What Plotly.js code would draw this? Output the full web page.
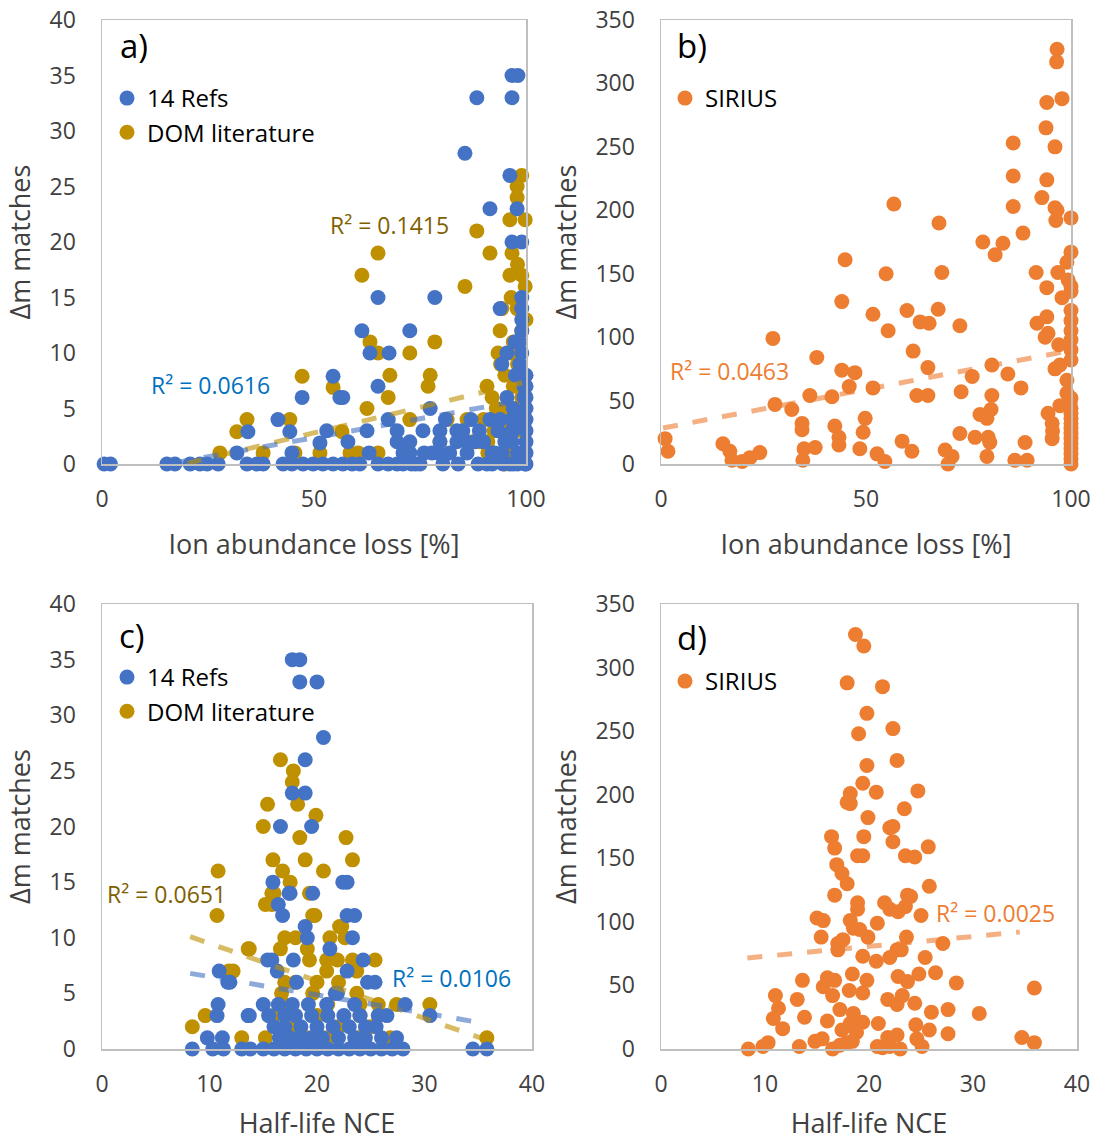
<!DOCTYPE html>
<html><head><meta charset="utf-8">
<script src="https://cdn.plot.ly/plotly-3.0.1.min.js"></script>
<style>body{margin:0;background:#fff}#c{width:1094px;height:1141px}</style>
</head><body><div id="c"></div>
<script>
// ---------- Panel a: Ion abundance loss [%] vs Δm matches ----------
const a_refs_x = [0.5,2,15.3,17.2,20.8,23.1,24.8,27.4,31.8,34.4,34.2,36.5,38,41.5,44.3,44.8,42.7,44.8,47.4,49.8,52.1,54.5,47.2,54.5,53,51.4,56.1,
  65.1,78.5,61.3,72.6,63.2,67.7,65.1,56.8,93.9,99,99,99,99,97.4,99,94.3,100,100,100,100,100,100,100,100,100,
  95.5,67.5,62.5,69.6,77.4,75.7,79.7,83.7,85.1,69.6,72.6,79.7,83.7,86,71,72.6,77.8,79.2,86.1,92.6,94.4,
  91.5,93.9,96.7,97.9,93.4,96.7,96.7,56.8,59,60.8,65.1,67.5,69.6,80.4,88.7,90.8,94.6,96.2,99.8,
  96.7,98.1,88.4,96.7,85.6,96.2,91.5,97.9,96.7,99,
  76,74,73,81,84,87,89,90,92,98,98,97,98.5,97.5,99.5,95,97,92,88,82,75,63,58,71,95.5,98.5,99.5,97];
const a_refs_y = [0,0,0,0,0,0,0,0,1,2.9,0,0,0,4,2.9,1,0,0,0,0,0,0,6,7.9,3,1.9,6,
  15,15,12,12,10,10,7,6,14,15,14,13,12,11,10,9,8,7,6,5,4,3,2,1,0,
  6,4,3,3,5,3,3,3,3,2,2,2,2,2,1,1,1,1,1,1,1,
  4,4,4,4,3,3,2,0,0,0,0,0,0,0,0,0,0,0,0,
  35,35,33,33,28,26,23,23,20,20,
  1,0,0,4,0,4,3,2,0,1,0,5,9,8,7,2,3,1,2,1,0,1,2,0,10,11,6,0];
const a_dom_x = [27.8,31.8,34.2,38,44.3,45.5,47.2,54.5,51.4,56.6,
  65.1,91.5,96.7,61.3,85.6,96.2,99,99.8,78.5,72.6,63.2,65.1,67.9,77.4,76.9,67.5,62.5,90.8,93.9,94.3,97.9,93.4,72.6,81.4,86.1,58.5,60.4,65.1,79.7,87.5,91,
  99,97.9,97.9,96.2,99.8,88.4,
  96,98,95,97,92,99,95,98,93,90,96,99,91,97,95,99,97,94,98,100,96.5,92.5,89];
const a_dom_y = [1,2.9,4,1,4,1,7.9,6.9,1,2.9,
  19,19,19,17,16,17,17,16,11,10,11,10,8,8,7,6,5,7,12,14,14,10,4,4,4,1,1,1,2,2,2,
  26,25,24,22,22,21,
  10,9,8,7,6,6,5,5,5,4,3,3,1,1,0,12,11,9,18,13,15,3,2,3];
// ---------- Panel b ----------
const b_sirius_x = [96.6,96.5,94.1,97.8,93.9,96.1,85.9,85.9,94.1,92.9,96.1,96.6,96.3,100,56.8,67.8,85.9,88.3,78.5,83.4,81.5,100,44.9,
  99,99.3,96.8,54.9,68.5,91.5,94.1,97.8,44.1,51.7,60,67.6,63.2,65.4,72.9,55.4,91.7,94.1,
  100,100,100,100,100,100,93.7,94.4,97,61.5,27.3,38,44.1,47.3,65.1,80.7,84.6,75.9,96.1,97.3,
  45.9,51.7,36.3,41.7,62.4,65.1,73.2,87.8,80.7,27.8,31.9,99,99.8,100,97.3,94.4,80.5,77.8,79.5,49.8,34.4,34.4,42.4,43.4,49.3,95.4,
  100,100,100,100,100,100,100,100,100,
  1,1.7,72.9,76.6,79.8,80.2,95.4,88.8,58.8,61.2,48.5,43.4,34.9,37.6,34.6,15.1,16.8,17.3,19.8,21.7,24.1,52.7,54.6,69.3,71,70,79.5,86.3,89.3,
  100,100,100,95.5,99,100,100];
const b_sirius_y = [327,317,285,288,265,250,253,227,224,210,202,200,192,194,205,190,203,182,175,174,165,167,161,
  159,145,151,150,151,151,139,131,128,118,121,122,112,111,109,105,111,116,
  121,113,105,98,90,82,100,103,94,89,99,84,74,72,76,78,71,69,75,78,
  61,60,54,53,54,54,57,60,54,47,43,56,48,40,46,40,43,39,36,36,32,27,30,21,25,32,
  32,28,24,20,16,12,8,4,0,
  20,10,24,21,21,17,20,17,18,10,12,15,12,13,3,16,10,3,2,5,9,8,2,11,6,0,6,3,3,
  52,44,36,26,66,140,136];
// ---------- Panel c: Half-life NCE ----------
const c_refs_x = [17.7,18.4,18.4,20,20.6,18.9,17.7,18.9,16.6,19.5,
  15.9,22.4,22.8,17.4,19.6,16.4,16.8,22.8,23.5,18.9,19.1,23.3,21.2,15.4,17.8,24.3,16.3,22.8,11.9,18.1,24.7,25.4,21.9,15,16.4,17.7,19.2,20.9,23.5,13.6,
  10.9,11.7,10.8,10.7,13.7,9.8,11.2,8.4,10.3,11.3,13,13.8,15,15.8,17.5,
  28.2,30.5,34.5,35.8,21.7,27.4,25.7,
  16,17,18,19,20,21,22,23,24,25,26,27,28,
  16.5,17.5,18.5,19.5,20.5,22,23.5,24.5,26,
  16,17,18.5,20,21.5,23,24.5,25.5,
  15.5,17,18,19.5,21,22.5,24,26.5];
const c_refs_y = [35,35,33,33,28,26,23,23,20,20,
  15,15,15,14,14,13,12,12,12,11,10,10,9,8,8,8,7,7,6,6,6,6,5,4,4,4,4,4,4,3,
  7,6,4,3,3,1,1,0,0,0,0,0,0,8,14,
  4,3,0,0,5,1,3,
  0,0,0,0,0,0,0,0,0,0,0,0,0,
  1,1,1,1,1,1,1,1,1,
  2,2,2,2,2,2,2,2,
  3,3,3,3,3,3,3,3];
const c_dom_x = [16.6,17.8,17.7,15.4,18.2,19.9,15,18.4,22.7,15.9,18.9,23.3,16.8,20.6,17.5,15.8,19.3,15.2,19.8,22.3,22.6,17,18,13.6,21.2,16.6,19.1,
  19.3,20.9,21.9,23.3,25.4,12.2,20.9,23.7,16.7,19.6,23.7,25.7,27.4,30.5,13,15.2,23.8,26.8,
  10.8,10.7,13.7,11.8,9.6,8.4,16,15.8,35.8,19.6,22.1,
  17,18,20,22,16,18,20,22,24,19,21,25,17,21,24];
const c_dom_y = [26,25,24,22,22,21,20,19,19,17,17,17,16,16,15,14,14,13,12,11,10,10,10,9,10,9,9,
  8,8,8,8,8,7,7,7,5,5,5,4,4,4,1,1,1,1,
  16,12,9,7,3,2,14,13,1,12,11,
  6,6,6,6,3,2,3,2,3,1,1,2,4,4,4];
// ---------- Panel d ----------
const d_sirius_x = [18.7,19.5,17.9,21.3,19.8,22.3,19,19.8,22.7,19.4,18.2,18.2,17.9,20.7,24.7,23.4,19.9,16.4,16.7,19.5,22,22.3,22.3,25.7,18.9,19.4,23.5,24.4,
  16.9,17.4,17.9,16.7,25.8,18.9,18.9,21.5,22,22.8,23.5,23.7,24,25,15,15.6,18.2,18.5,19.1,19.9,20.8,15.4,23.6,27.1,17,17.5,17,22.7,23.1,22,19.4,20.7,25.4,
  13.6,16,16.7,15.6,18.4,19.8,22.8,23.7,24.8,26.4,28.4,35.9,11,13.1,16.5,18.1,19.4,21.8,22.7,23.2,24.4,11.3,10.8,11.7,13.8,16,17.2,18.5,19.4,18.2,17.4,18.8,20.9,26,27.6,30.6,24.5,25.8,27.6,21.8,22.7,24.6,25.1,14.8,15.5,13.3,8.4,9.8,10.3,16.5,17.2,17.9,18.4,20.8,21.3,22,23,34.7,35.9];
const d_sirius_y = [326,317,288,285,264,252,248,223,227,209,201,193,194,202,203,189,182,167,158,167,174,175,163,159,152,152,152,151,
  145,138,130,121,128,115,110,115,110,108,112,121,120,105,103,101,101,95,94,88,99,88,88,83,83,86,78,78,78,72,73,69,72,
  54,56,54,49,59,54,57,53,59,60,52,48,42,39,42,46,44,39,35,42,36,32,24,16,25,22,31,28,21,20,15,13,20,29,31,28,19,15,12,9,11,8,2,6,8,2,0,2,5,0,3,5,6,2,1,2,0,9,5];
// ---------- Trendlines (endpoints) ----------
const a_refs_trend_x = [17, 100], a_refs_trend_y = [0.1, 5.8];
const a_dom_trend_x = [20, 100],  a_dom_trend_y = [0.05, 7.4];
const b_trend_x = [0.5, 100],     b_trend_y = [28.4, 89.5];
const c_refs_trend_x = [8.2, 35.6], c_refs_trend_y = [6.8, 2.3];
const c_dom_trend_x = [8.2, 35.8],  c_dom_trend_y = [10.1, 0.8];
const d_trend_x = [8.3, 34.5],    d_trend_y = [71.6, 92];
const r2_labels = ['R² = 0.1415','R² = 0.0616','R² = 0.0463','R² = 0.0651','R² = 0.0106','R² = 0.0025'];

const BLUE='#4472C4', GOLD='#BF9000', ORANGE='#ED7D31';
const FONT='Open Sans, Lato, sans-serif';
const MS=15;

function pts(x,y,color,name,xa,ya,leg,show,rank){
  return {type:'scatter',mode:'markers',x:x,y:y,name:name,xaxis:xa,yaxis:ya,
    marker:{color:color,size:MS,line:{width:0}},cliponaxis:false,legend:leg,showlegend:show,
    legendgroup:name+leg,legendrank:rank,hoverinfo:'x+y'};
}
function trend(x,y,color,xa,ya){
  return {type:'scatter',mode:'lines',x:x,y:y,xaxis:xa,yaxis:ya,showlegend:false,
    line:{color:color,width:5,dash:'dash'},opacity:0.6,hoverinfo:'skip'};
}
const traces=[
  pts(a_dom_x,a_dom_y,GOLD,'DOM literature','x','y','legend',true,2),
  pts(a_refs_x,a_refs_y,BLUE,'14 Refs','x','y','legend',true,1),
  trend(a_dom_trend_x,a_dom_trend_y,GOLD,'x','y'),
  trend(a_refs_trend_x,a_refs_trend_y,BLUE,'x','y'),
  pts(b_sirius_x,b_sirius_y,ORANGE,'SIRIUS','x2','y2','legend2',true,1),
  trend(b_trend_x,b_trend_y,ORANGE,'x2','y2'),
  pts(c_dom_x,c_dom_y,GOLD,'DOM literature','x3','y3','legend3',true,2),
  pts(c_refs_x,c_refs_y,BLUE,'14 Refs','x3','y3','legend3',true,1),
  trend(c_dom_trend_x,c_dom_trend_y,GOLD,'x3','y3'),
  trend(c_refs_trend_x,c_refs_trend_y,BLUE,'x3','y3'),
  pts(d_sirius_x,d_sirius_y,ORANGE,'SIRIUS','x4','y4','legend4',true,1),
  trend(d_trend_x,d_trend_y,ORANGE,'x4','y4')
];

const W=1094,H=1141;
const px=v=>v/W, py=v=>1-v/H;
function xax(l,r,range,dtick,title,anchor){
  return {domain:[px(l),px(r)],range:range,dtick:dtick,tick0:0,anchor:anchor,showgrid:false,zeroline:false,
    showline:true,mirror:true,linecolor:'#BFBFBF',linewidth:1.5,ticks:'',ticklabelstandoff:14,
    tickfont:{family:FONT,size:23,color:'#404040'},
    title:{text:title,font:{family:FONT,size:27,color:'#404040'},standoff:22},fixedrange:true};
}
function yax(t,b,range,dtick,anchor){
  return {domain:[py(b),py(t)],range:range,dtick:dtick,tick0:0,anchor:anchor,showgrid:false,zeroline:false,
    showline:true,mirror:true,linecolor:'#BFBFBF',linewidth:1.5,ticks:'',ticklabelstandoff:20,
    tickfont:{family:FONT,size:23,color:'#404040'},
    title:{text:'Δm matches',font:{family:FONT,size:27,color:'#404040'},standoff:11},fixedrange:true};
}
function leg(x,y){
  return {x:px(x),y:py(y),xanchor:'left',yanchor:'top',bgcolor:'rgba(0,0,0,0)',
    font:{family:FONT,size:24,color:'#000'},traceorder:'grouped',tracegroupgap:0,itemsizing:'trace'};
}
function ann(text,x,y,xr,yr,color,size){
  return {text:text,x:x,y:y,xref:xr,yref:yr,showarrow:false,font:{family:FONT,size:size,color:color},xanchor:'center',yanchor:'middle'};
}
const layout={
  width:W,height:H,margin:{l:0,r:0,t:0,b:0},paper_bgcolor:'#fff',plot_bgcolor:'#fff',
  xaxis:xax(102,526,[0,100],50,'Ion abundance loss [%]','y'),
  yaxis:yax(20,464,[0,40],5,'x'),
  xaxis2:xax(661,1071,[0,100],50,'Ion abundance loss [%]','y2'),
  yaxis2:yax(20,464,[0,350],50,'x2'),
  xaxis3:xax(102,532,[0,40],10,'Half-life NCE','y3'),
  yaxis3:yax(604,1049,[0,40],5,'x3'),
  xaxis4:xax(661,1077,[0,40],10,'Half-life NCE','y4'),
  yaxis4:yax(604,1049,[0,350],50,'x4'),
  legend:leg(107,76),legend2:leg(665,76),legend3:leg(107,655),legend4:leg(665,659),
  annotations:[
    ann('a)',px(134),py(46),'paper','paper','#000',33),
    ann('b)',px(692),py(46),'paper','paper','#000',33),
    ann('c)',px(132),py(635),'paper','paper','#000',33),
    ann('d)',px(692),py(637),'paper','paper','#000',33),
    ann(r2_labels[0],67.9,21.5,'x','y','#7F6000',23),
    ann(r2_labels[1],25.7,7.1,'x','y','#0070C0',23),
    ann(r2_labels[2],16.6,73,'x2','y2','#ED7D31',23),
    ann(r2_labels[3],6,13.9,'x3','y3','#7F6000',23),
    ann(r2_labels[4],32.5,6.4,'x3','y3','#0070C0',23),
    ann(r2_labels[5],32.2,107,'x4','y4','#ED7D31',23)
  ]
};
Plotly.newPlot('c',traces,layout,{displayModeBar:false,staticPlot:true});
</script></body></html>
